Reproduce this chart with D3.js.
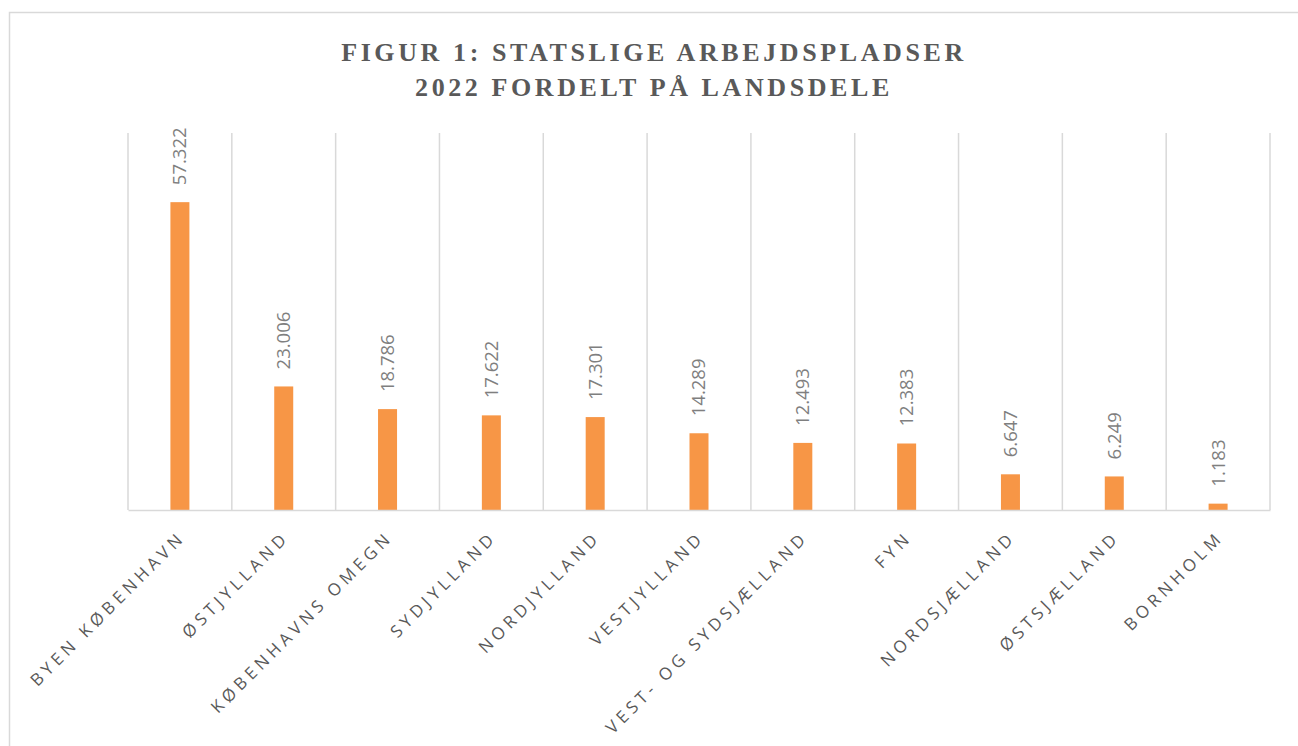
<!DOCTYPE html>
<html>
<head>
<meta charset="utf-8">
<script src="https://cdn.jsdelivr.net/npm/d3@7"></script>
<style>
  body { margin: 0; background: #fff; }
  svg { display: block; }
</style>
</head>
<body>
<div id="chart"></div>
<script>
const categories = ["BYEN KØBENHAVN", "ØSTJYLLAND", "KØBENHAVNS OMEGN", "SYDJYLLAND", "NORDJYLLAND",
    "VESTJYLLAND", "VEST- OG SYDSJÆLLAND", "FYN", "NORDSJÆLLAND", "ØSTSJÆLLAND", "BORNHOLM"];
const values = [57.322, 23.006, 18.786, 17.622, 17.301, 14.289, 12.493, 12.383, 6.647, 6.249, 1.183];
const valueLabels = ["57.322", "23.006", "18.786", "17.622", "17.301", "14.289", "12.493", "12.383", "6.647", "6.249", "1.183"];
const titleLines = ["FIGUR 1: STATSLIGE ARBEJDSPLADSER", "2022 FORDELT PÅ LANDSDELE"];

const outerWidth = 1298, outerHeight = 746;
const margin = {top: 133, right: 28, bottom: 236, left: 128};
const width = outerWidth - margin.left - margin.right, height = outerHeight - margin.top - margin.bottom;

const root = d3.select("#chart").append("svg")
    .attr("width", outerWidth)
    .attr("height", outerHeight);

// chart frame
root.append("rect")
    .attr("x", 9.5).attr("y", 12.5)
    .attr("width", 1300).attr("height", 800)
    .attr("fill", "none")
    .attr("stroke", "#d9d9d9")
    .attr("stroke-width", 1.5);

root.append("text")
    .attr("x", 654)
    .attr("text-anchor", "middle")
    .attr("font-family", "'Liberation Serif', serif")
    .attr("font-weight", "bold")
    .attr("font-size", 26)
    .attr("letter-spacing", 3.6)
    .attr("fill", "#595959")
    .selectAll("tspan")
    .data(titleLines)
    .join("tspan")
    .attr("x", 654)
    .attr("y", (d, i) => 61 + i * 35)
    .text(d => d);

const svg = root.append("g")
    .attr("transform", "translate(" + margin.left + "," + margin.top + ")");

const xScale = d3.scaleBand()
    .domain(categories)
    .range([0, width]);

const yScale = d3.scaleLinear()
    .domain([0, 70.2])
    .range([height, 0]);

// vertical gridlines at category boundaries
const bounds = categories.map(c => xScale(c)).concat([width]);
svg.selectAll(".grid")
    .data(bounds)
    .join("line")
    .attr("class", "grid")
    .attr("x1", d => d).attr("x2", d => d)
    .attr("y1", 0).attr("y2", height)
    .attr("stroke", "#d9d9d9")
    .attr("stroke-width", 1.5);

const barWidth = 19;
svg.selectAll(".bar")
    .data(values)
    .join("rect")
    .attr("class", "bar")
    .attr("x", (d, i) => xScale(categories[i]) + xScale.bandwidth() / 2 - barWidth / 2)
    .attr("y", d => yScale(d))
    .attr("width", barWidth)
    .attr("height", d => height - yScale(d))
    .attr("fill", "#f79646");

// baseline axis
const xAxis = d3.axisBottom(xScale).tickSize(0).tickFormat("");
svg.append("g")
    .attr("transform", `translate(0, ${height})`)
    .call(xAxis)
    .call(g => g.select(".domain").attr("stroke", "#d9d9d9").attr("stroke-width", 1.5));

// value labels
svg.selectAll(".val")
    .data(values)
    .join("text")
    .attr("class", "val")
    .attr("transform", (d, i) => `translate(${xScale(categories[i]) + xScale.bandwidth() / 2}, ${yScale(d) - 17}) rotate(-90)`)
    .attr("dy", "0.35em")
    .attr("font-family", "'Open Sans', sans-serif")
    .attr("font-size", 18.5)
    .attr("fill", "#7f7f7f")
    .text((d, i) => valueLabels[i]);

// category labels
svg.selectAll(".cat")
    .data(categories)
    .join("text")
    .attr("class", "cat")
    .attr("transform", d => `translate(${xScale(d) + xScale.bandwidth() / 2 - 2}, ${height + 20}) rotate(-45)`)
    .attr("text-anchor", "end")
    .attr("dy", "0.7em")
    .attr("font-family", "'Open Sans', sans-serif")
    .attr("font-size", 17)
    .attr("letter-spacing", 4.3)
    .attr("fill", "#595959")
    .text(d => d);
</script>
</body>
</html>
